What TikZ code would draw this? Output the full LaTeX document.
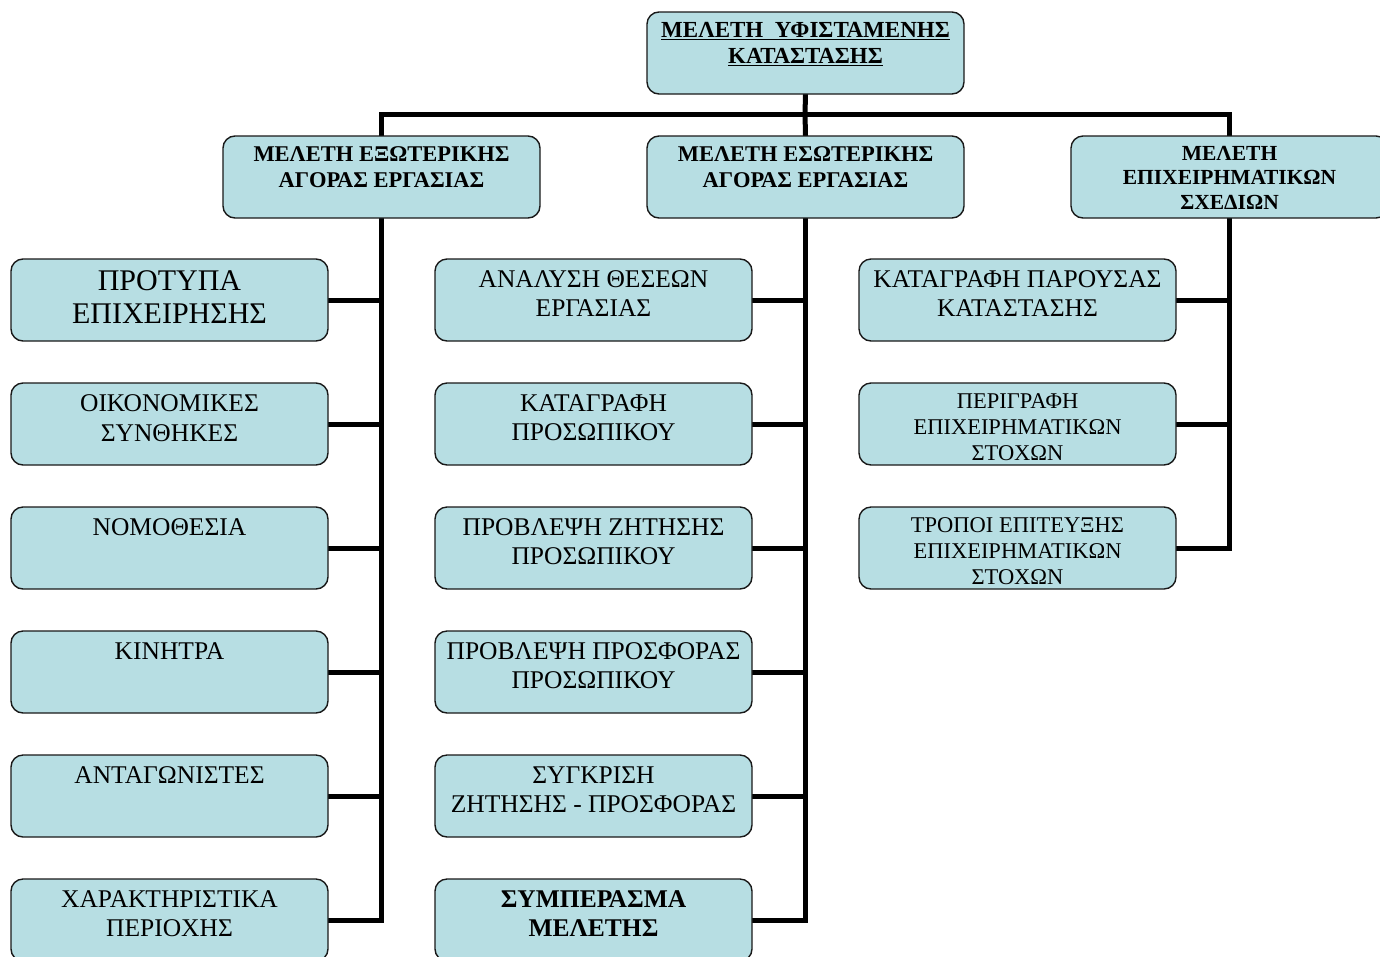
\documentclass[tikz,border=0pt]{standalone}
\usepackage{fontspec}
\setmainfont{Liberation Serif}
\definecolor{cellfill}{RGB}{183,222,227}
\definecolor{cellline}{RGB}{25,25,25}
% text block of a cell: size, leading, gap above first line, lines
\newcommand{\celltext}[4]{\parbox[c][82pt][t]{317pt}{\centering\fontsize{#1pt}{#2pt}\selectfont\vspace*{#3pt}#4\par}}
\pgfdeclarelayer{wires}
\pgfsetlayers{wires,main}
\tikzset{
  cell/.style={draw=cellline, fill=cellfill, rounded corners=12pt, line width=1.4pt,
    inner sep=0pt, outer sep=0pt, anchor=north west},
  wire/.style={line width=5pt, draw=black},
}
\begin{document}
\begin{tikzpicture}[x=1pt,y=-1pt]
\useasboundingbox (0,0) rectangle (1380,956);
\clip (0,0) rectangle (1380,956);

% top and second level
\node[cell] (top) at (647,12) {\celltext{23}{26}{10.5}{\bfseries\underline{ΜΕΛΕΤΗ\ \ ΥΦΙΣΤΑΜΕΝΗΣ}\\\underline{ΚΑΤΑΣΤΑΣΗΣ}}};
\node[cell] (h1) at (223,136) {\celltext{22.5}{26}{11}{\bfseries ΜΕΛΕΤΗ ΕΞΩΤΕΡΙΚΗΣ\\ΑΓΟΡΑΣ ΕΡΓΑΣΙΑΣ}};
\node[cell] (h2) at (647,136) {\celltext{22.5}{26}{11}{\bfseries ΜΕΛΕΤΗ ΕΣΩΤΕΡΙΚΗΣ\\ΑΓΟΡΑΣ ΕΡΓΑΣΙΑΣ}};
\node[cell] (h3) at (1071,136) {\celltext{21.5}{24.5}{10}{\bfseries ΜΕΛΕΤΗ\\ΕΠΙΧΕΙΡΗΜΑΤΙΚΩΝ\\ΣΧΕΔΙΩΝ}};

% left column
\node[cell] (l1) at (11,259) {\celltext{30}{33}{12}{ΠΡΟΤΥΠΑ\\ΕΠΙΧΕΙΡΗΣΗΣ}};
\node[cell] (l2) at (11,383) {\celltext{25.5}{30}{11.8}{ΟΙΚΟΝΟΜΙΚΕΣ\\ΣΥΝΘΗΚΕΣ}};
\node[cell] (l3) at (11,507) {\celltext{25.5}{30}{11.8}{ΝΟΜΟΘΕΣΙΑ}};
\node[cell] (l4) at (11,631) {\celltext{25.5}{30}{11.8}{ΚΙΝΗΤΡΑ}};
\node[cell] (l5) at (11,755) {\celltext{25.5}{30}{11.8}{ΑΝΤΑΓΩΝΙΣΤΕΣ}};
\node[cell] (l6) at (11,879) {\celltext{25.5}{28.5}{11.8}{ΧΑΡΑΚΤΗΡΙΣΤΙΚΑ\\ΠΕΡΙΟΧΗΣ}};

% middle column
\node[cell] (m1) at (435,259) {\celltext{25.5}{29}{11.8}{ΑΝΑΛΥΣΗ ΘΕΣΕΩΝ\\ΕΡΓΑΣΙΑΣ}};
\node[cell] (m2) at (435,383) {\celltext{25.5}{29}{11.8}{ΚΑΤΑΓΡΑΦΗ\\ΠΡΟΣΩΠΙΚΟΥ}};
\node[cell] (m3) at (435,507) {\celltext{25.5}{29}{11.8}{ΠΡΟΒΛΕΨΗ ΖΗΤΗΣΗΣ\\ΠΡΟΣΩΠΙΚΟΥ}};
\node[cell] (m4) at (435,631) {\celltext{25.5}{29}{11.8}{ΠΡΟΒΛΕΨΗ ΠΡΟΣΦΟΡΑΣ\\ΠΡΟΣΩΠΙΚΟΥ}};
\node[cell] (m5) at (435,755) {\celltext{25.5}{29}{11.8}{ΣΥΓΚΡΙΣΗ\\ΖΗΤΗΣΗΣ - ΠΡΟΣΦΟΡΑΣ}};
\node[cell] (m6) at (435,879) {\celltext{25.5}{29}{11.8}{\bfseries ΣΥΜΠΕΡΑΣΜΑ\\ΜΕΛΕΤΗΣ}};

% right column
\node[cell] (r1) at (859,259) {\celltext{25.5}{29}{11.8}{ΚΑΤΑΓΡΑΦΗ ΠΑΡΟΥΣΑΣ\\ΚΑΤΑΣΤΑΣΗΣ}};
\node[cell] (r2) at (859,383) {\celltext{22.5}{26}{10.8}{ΠΕΡΙΓΡΑΦΗ\\ΕΠΙΧΕΙΡΗΜΑΤΙΚΩΝ\\ΣΤΟΧΩΝ}};
\node[cell] (r3) at (859,507) {\celltext{22.5}{26}{10.8}{ΤΡΟΠΟΙ ΕΠΙΤΕΥΞΗΣ\\ΕΠΙΧΕΙΡΗΜΑΤΙΚΩΝ\\ΣΤΟΧΩΝ}};

% connectors, kept beneath the cells
\begin{pgfonlayer}{wires}
\coordinate (bus) at (805,114);
\draw[wire] (top.south) -- (bus);
\draw[wire] (h1.north) |- (bus) -| (h3.north);
\draw[wire] (bus) -- (h2.north);

\draw[wire] (h1.south) |- (l6.east);
\foreach \n in {l1,l2,l3,l4,l5} \draw[wire] (\n.east) -- (\n.east -| h1.south);

\draw[wire] (h2.south) |- (m6.east);
\foreach \n in {m1,m2,m3,m4,m5} \draw[wire] (\n.east) -- (\n.east -| h2.south);

\draw[wire] (h3.south) |- (r3.east);
\foreach \n in {r1,r2} \draw[wire] (\n.east) -- (\n.east -| h3.south);
\end{pgfonlayer}
\end{tikzpicture}
\end{document}
